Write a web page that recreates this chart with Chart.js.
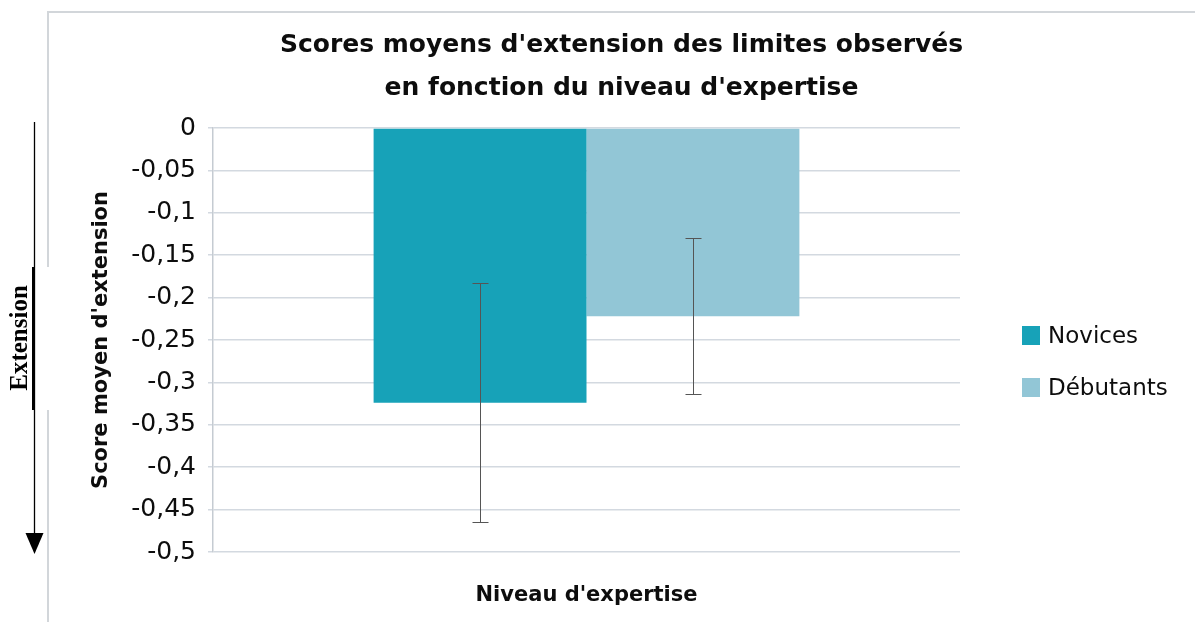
<!DOCTYPE html>
<html>
<head>
<meta charset="utf-8">
<script src="https://cdn.jsdelivr.net/npm/chart.js@4.4.1/dist/chart.umd.min.js"></script>
<style>
  html, body { margin: 0; padding: 0; background: #fff; }
  #wrap { width: 1195px; height: 622px; position: relative; }
</style>
</head>
<body>
<div id="wrap"><canvas id="chart"></canvas></div>
<script>
// data
const categories = [""];
const seriesNames = ["Novices", "Débutants"];
const novicesValues = [-0.324];
const debutantsValues = [-0.222];
const novicesErrors = [0.141];
const debutantsErrors = [0.092];
const yMin = -0.5;
const yMax = 0;
const yStep = 0.05;
const yTickLabels = ["0", "-0,05", "-0,1", "-0,15", "-0,2", "-0,25", "-0,3", "-0,35", "-0,4", "-0,45", "-0,5"];
const titleLines = ["Scores moyens d'extension des limites observés", "en fonction du niveau d'expertise"];
const yTitle = "Score moyen d'extension";
const xTitle = "Niveau d'expertise";
const sideLabel = "Extension";

const colors = ["#17a2b8", "#92c6d6"];
const gridColor = "#d3d9e0";

Chart.defaults.font.family = "'DejaVu Sans', sans-serif";
Chart.defaults.color = "#0d0d0d";

// light frame + the hand-drawn "Extension" arrow on the left
const framePlugin = {
  id: "frame",
  beforeDraw(chart) {
    const { ctx } = chart;
    ctx.save();
    ctx.strokeStyle = "#d2d6da";
    ctx.lineWidth = 2;
    ctx.beginPath();
    ctx.moveTo(48, 622);
    ctx.lineTo(48, 12);
    ctx.lineTo(1195, 12);
    ctx.stroke();
    ctx.restore();
  },
  afterDraw(chart) {
    const { ctx } = chart;
    ctx.save();
    ctx.fillStyle = "#fff";
    ctx.fillRect(34, 267, 17, 143);
    ctx.strokeStyle = "#000";
    ctx.lineWidth = 1.3;
    ctx.beginPath();
    ctx.moveTo(34.5, 122);
    ctx.lineTo(34.5, 536);
    ctx.stroke();
    ctx.lineWidth = 3;
    ctx.beginPath();
    ctx.moveTo(33.5, 267);
    ctx.lineTo(33.5, 410);
    ctx.stroke();
    ctx.fillStyle = "#000";
    ctx.beginPath();
    ctx.moveTo(25.5, 533);
    ctx.lineTo(43.5, 533);
    ctx.lineTo(34.5, 554);
    ctx.closePath();
    ctx.fill();
    ctx.translate(21, 338);
    ctx.rotate(-Math.PI / 2);
    ctx.font = "bold 25px 'Liberation Serif', serif";
    ctx.textAlign = "center";
    ctx.textBaseline = "middle";
    ctx.fillText(sideLabel, 0, 0);
    ctx.restore();
  }
};

const errorBarPlugin = {
  id: "errorBars",
  afterDatasetsDraw(chart) {
    const { ctx } = chart;
    const y = chart.scales.y;
    ctx.save();
    ctx.strokeStyle = "#555";
    ctx.lineWidth = 1;
    chart.data.datasets.forEach((ds, i) => {
      chart.getDatasetMeta(i).data.forEach((bar, j) => {
        const v = ds.data[j];
        const e = ds.errors[j];
        const x = Math.round(bar.x) + 0.5;
        const top = Math.round(y.getPixelForValue(v + e)) + 0.5;
        const bot = Math.round(y.getPixelForValue(v - e)) + 0.5;
        ctx.beginPath();
        ctx.moveTo(x, top);
        ctx.lineTo(x, bot);
        ctx.moveTo(x - 8, top);
        ctx.lineTo(x + 8, top);
        ctx.moveTo(x - 8, bot);
        ctx.lineTo(x + 8, bot);
        ctx.stroke();
      });
    });
    ctx.restore();
  }
};

const sideLegendPlugin = {
  id: "sideLegend",
  afterDraw(chart) {
    const { ctx, chartArea } = chart;
    ctx.save();
    ctx.font = "23px 'DejaVu Sans', sans-serif";
    ctx.textBaseline = "middle";
    chart.data.datasets.forEach((ds, i) => {
      const cy = chartArea.top + 208 + i * 52;
      const x = chartArea.right + 62;
      ctx.fillStyle = ds.backgroundColor;
      ctx.fillRect(x, cy - 10, 18, 19);
      ctx.fillStyle = "#0d0d0d";
      ctx.fillText(ds.label, x + 26, cy + 1);
    });
    ctx.restore();
  }
};

new Chart(document.getElementById("chart"), {
  type: "bar",
  data: {
    labels: categories,
    datasets: [
      { label: seriesNames[0], data: novicesValues, errors: novicesErrors, backgroundColor: colors[0] },
      { label: seriesNames[1], data: debutantsValues, errors: debutantsErrors, backgroundColor: colors[1] }
    ]
  },
  options: {
    responsive: true,
    maintainAspectRatio: false,
    animation: false,
    devicePixelRatio: 1,
    layout: { padding: { left: 48, right: 0, top: 0, bottom: 0 } },
    datasets: {
      bar: { categoryPercentage: 0.57, barPercentage: 1, borderWidth: 0 }
    },
    plugins: {
      legend: { display: false },
      tooltip: { enabled: false },
      title: {
        display: true,
        text: titleLines,
        font: { size: 25, weight: "bold", lineHeight: 1.72 },
        color: "#0d0d0d",
        padding: { top: 23.5, bottom: 18.5 }
      }
    },
    scales: {
      x: {
        grid: { display: false },
        border: { display: false },
        ticks: { display: false },
        title: {
          display: true,
          text: xTitle,
          font: { size: 21, weight: "bold" },
          padding: { top: 0, bottom: 14 }
        },
        afterFit: (s) => { s.height = 70; }
      },
      y: {
        min: yMin,
        max: yMax,
        grid: { color: gridColor, lineWidth: 1.5, tickLength: 5 },
        border: { color: "#c5cbd2", width: 1.5 },
        ticks: {
          stepSize: yStep,
          padding: 12,
          font: { size: 25 },
          color: "#0d0d0d",
          callback: (v) => yTickLabels[Math.round(-v / yStep)]
        },
        title: {
          display: true,
          text: yTitle,
          font: { size: 21, weight: "bold" },
          padding: { top: 41, bottom: 0 }
        },
        afterFit: (s) => { s.width = 165; }
      },
      spacer: {
        type: "linear",
        position: "right",
        grid: { display: false, drawTicks: false },
        border: { display: false },
        ticks: { display: false },
        afterFit: (s) => { s.width = 235; }
      }
    }
  },
  plugins: [framePlugin, errorBarPlugin, sideLegendPlugin]
});
</script>
</body>
</html>
